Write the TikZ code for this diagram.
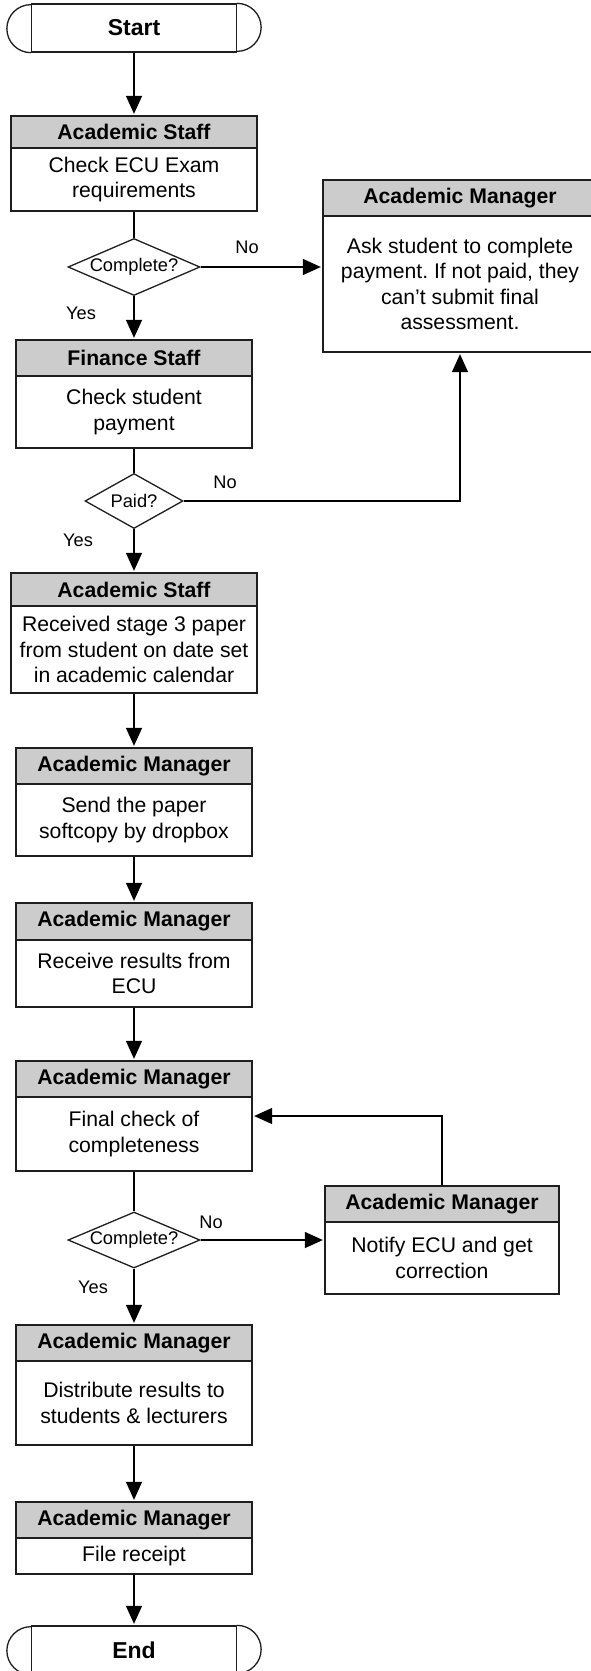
\documentclass[tikz,border=0pt]{standalone}
\usepackage{fontspec}
\setmainfont{Liberation Sans}
\usetikzlibrary{arrows.meta,shapes.geometric,calc}
\frenchspacing
\definecolor{hdgray}{RGB}{204,204,204}
\definecolor{edge}{RGB}{30,30,30}
\tikzset{
  ln/.style={line width=1.3pt, draw=black},
  arr/.style={ln, -{Triangle[length=18pt,width=16pt]}, shorten >=1.5pt},
  boxshape/.style={draw=edge, line width=1.3pt, inner sep=0pt, rectangle},
  headtext/.style={font=\bfseries\fontsize{21.2}{25.5}\selectfont, inner sep=0pt},
  bodytext/.style={font=\fontsize{21.2}{25.5}\selectfont, align=center, inner sep=0pt},
  termtext/.style={font=\bfseries\fontsize{23}{27}\selectfont, inner sep=0pt},
  termbox/.style={draw=edge, line width=1.3pt, rectangle, inner sep=0pt, minimum width=205, minimum height=48},
  dia/.style={diamond, draw=edge, line width=1.3pt, inner sep=0pt},
  dtext/.style={font=\fontsize{18.3}{22}\selectfont, inner sep=0pt},
  lbl/.style={font=\fontsize{18.2}{22}\selectfont, inner sep=0pt},
}
% #1 name, #2 left, #3 right, #4 top, #5 header bottom, #6 bottom, #7 header, #8 body
\newcommand{\procbox}[8]{%
  \fill[hdgray] (#2,#4) rectangle (#3,#5);
  \node[boxshape, minimum width={#3-#2}, minimum height={#6-#4}] (#1) at ({(#2+#3)/2},{(#4+#6)/2}) {};
  \draw[draw=edge, line width=1.3pt] (#2,#5) -- (#3,#5);
  \node[headtext] (#1-h) at ({(#2+#3)/2},{(#4+#5)/2}) {#7};
  \node[bodytext] (#1-b) at ({(#2+#3)/2},{(#5+#6)/2}) {#8};
}
\begin{document}
\begin{tikzpicture}[x=1pt,y=-1pt]
\useasboundingbox (0,0) rectangle (591,1671);
\clip (0,0) rectangle (591,1671);
\fill[white] (0,0) rectangle (591,1671);

% terminals
\node[termbox] (start) at (134,28) {};
\draw[draw=edge, line width=1.3pt] (start.north east) arc[start angle=-90, end angle=90, radius=24];
\draw[draw=edge, line width=1.3pt] (start.south west) arc[start angle=90, end angle=270, radius=24];
\node[termtext] (start-t) at (start) {Start};

\node[termbox] (end) at (134,1650) {};
\draw[draw=edge, line width=1.3pt] (end.north east) arc[start angle=-90, end angle=90, radius=24];
\draw[draw=edge, line width=1.3pt] (end.south west) arc[start angle=90, end angle=270, radius=24];
\node[termtext] (end-t) at (end) {End};

% process boxes
\procbox{as1}{11}{257}{116}{148}{211}{Academic Staff}{Check ECU Exam\\requirements}
\procbox{am1}{323}{597}{180}{216}{352}{Academic Manager}{Ask student to complete\\payment. If not paid, they\\can’t submit final\\assessment.}
\procbox{fs}{16}{252}{340}{376}{448}{Finance Staff}{Check student\\payment}
\procbox{as2}{11}{257}{573}{606}{693}{Academic Staff}{Received stage 3 paper\\from student on date set\\in academic calendar}
\procbox{am2}{16}{252}{748}{784}{856}{Academic Manager}{Send the paper\\softcopy by dropbox}
\procbox{am3}{16}{252}{903}{940}{1007}{Academic Manager}{Receive results from\\ECU}
\procbox{am4}{16}{252}{1061}{1097}{1171}{Academic Manager}{Final check of\\completeness}
\procbox{nt}{325}{559}{1186}{1222}{1294}{Academic Manager}{Notify ECU and get\\correction}
\procbox{am5}{16}{252}{1325}{1361}{1445}{Academic Manager}{Distribute results to\\students \& lecturers}
\procbox{am6}{16}{252}{1502}{1538}{1574}{Academic Manager}{File receipt}

% decisions
\node[dia, minimum width=132, minimum height=57] (d1) at (134,267) {};
\node[dtext] (d1-t) at (d1) {Complete?};
\node[dia, minimum width=98, minimum height=55] (d2) at (134,501) {};
\node[dtext] (d2-t) at (d2) {Paid?};
\node[dia, minimum width=132, minimum height=56] (d3) at (134,1240) {};
\node[dtext] (d3-t) at (d3) {Complete?};

% labels
\node[lbl] (no1) at (247,247) {No};
\node[lbl] (yes1) at (81,313) {Yes};
\node[lbl] (no2) at (225,482) {No};
\node[lbl] (yes2) at (78,540) {Yes};
\node[lbl] (no3) at (211,1222) {No};
\node[lbl] (yes3) at (93,1287) {Yes};

% connectors
\draw[arr] (start.south) -- (as1.north);
\draw[ln] (as1.south) -- (d1.north);
\draw[arr] (d1.east) -- (d1.east -| am1.west);
\draw[arr] (d1.south) -- (fs.north);
\draw[ln] (fs.south) -- (d2.north);
\draw[arr] (d2.east) -| (am1.south);
\draw[arr] (d2.south) -- (as2.north);
\draw[arr] (as2.south) -- (am2.north);
\draw[arr] (am2.south) -- (am3.north);
\draw[arr] (am3.south) -- (am4.north);
\draw[ln] (am4.south) -- (d3.north);
\draw[arr] (d3.east) -- (d3.east -| nt.west);
\draw[arr] (nt.north) |- (am4.east);
\draw[arr] (d3.south) -- (am5.north);
\draw[arr] (am5.south) -- (am6.north);
\draw[arr] (am6.south) -- (end.north);
\end{tikzpicture}
\end{document}
